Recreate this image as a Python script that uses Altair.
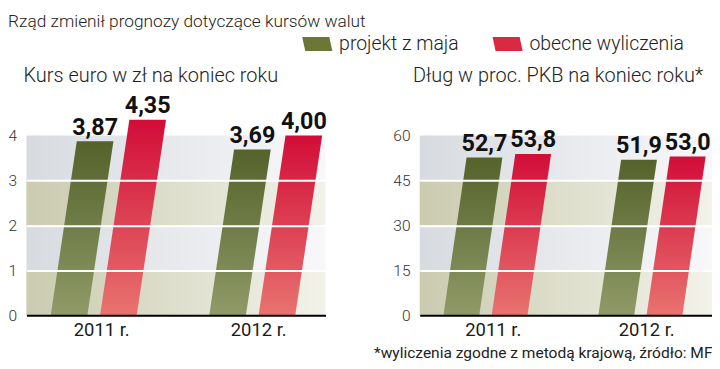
import altair as alt
import pandas as pd

# ---- data -------------------------------------------------------------
main_title = "Rząd zmienił prognozy dotyczące kursów walut"
series = ["projekt z maja", "obecne wyliczenia"]
years = ["2011 r.", "2012 r."]

kurs_title = "Kurs euro w zł na koniec roku"
kurs_projekt = [3.87, 3.69]
kurs_obecne = [4.35, 4.00]
kurs_ticks = [0, 1, 2, 3, 4]

dlug_title = "Dług w proc. PKB na koniec roku*"
dlug_projekt = [52.7, 51.9]
dlug_obecne = [53.8, 53.0]
dlug_ticks = [0, 15, 30, 45, 60]

footnote = "*wyliczenia zgodne z metodą krajową, źródło: MF"

# ---- style -------------------------------------------------------------
FONT = "Roboto"
GREEN = "#6b7637"
RED = "#d92a42"


def vgrad(top, bottom):
    return alt.Gradient(gradient="linear", x1=0, x2=0, y1=0, y2=1,
                        stops=[alt.GradientStop(color=top, offset=0),
                               alt.GradientStop(color=bottom, offset=1)])


def hgrad(left, right):
    return alt.Gradient(gradient="linear", x1=0, x2=1, y1=0, y2=0,
                        stops=[alt.GradientStop(color=left, offset=0),
                               alt.GradientStop(color=right, offset=1)])


bar_grads = [vgrad("#55622a", "#8f9a68"), vgrad("#d20d38", "#e8736f")]
band_grads = [hgrad("#cacbaf", "#f2f2ea"), hgrad("#d7dbe0", "#f8f8fa")]

N_SLOTS = 4                    # x domain width (units)
GROUP0, GROUP_STEP = 0.9, 2.12  # bar group centres
LABEL0, LABEL_STEP = 1.0, 2.1   # category label positions
OFFS = [-0.33, 0.33]           # series offsets inside a group
HALF_W = 0.245                 # half bar width (x units)
SLANT = 0.36                   # top shift of a full-height bar (x units)


def fmt(v, nd):
    return f"{v:.{nd}f}".replace(".", ",")


def panel(values, ticks, title, width, anchor, nd, axis_title, title_offset,
          title_dx, with_legend):
    vmax = ticks[-1]
    area_rows, label_rows = [], []
    for i, yr in enumerate(years):
        c = GROUP0 + GROUP_STEP * i
        for j, s in enumerate(series):
            v = values[j][i]
            b = c + OFFS[j]
            sl = SLANT * v / vmax
            key = f"{i}-{j}"
            left0 = b - HALF_W
            w = 2 * HALF_W
            # parallelogram as a vertical ranged area (4 points)
            area_rows += [
                dict(key=key, series=s, x=left0, lo=0, hi=0),
                dict(key=key, series=s, x=left0 + sl, lo=0, hi=v),
                dict(key=key, series=s, x=left0 + w, lo=0, hi=v),
                dict(key=key, series=s, x=left0 + w + sl, lo=v, hi=v),
            ]
            label_rows.append(dict(series=s, x=b + sl, y=v, text=fmt(v, nd)))
    areas = pd.DataFrame(area_rows)
    labels = pd.DataFrame(label_rows)
    bands = pd.DataFrame([dict(lo=ticks[k], hi=ticks[k + 1], kind=k % 2,
                               x0=0, x1=N_SLOTS) for k in range(len(ticks) - 1)])

    xscale = alt.Scale(domain=[0, N_SLOTS], nice=False, zero=False)
    yscale = alt.Scale(domain=[ticks[0], ticks[-1]], nice=False)

    label_pos = [round(LABEL0 + LABEL_STEP * i, 3) for i in range(len(years))]
    label_expr = " : ".join(
        f"datum.value == {label_pos[i]} ? '{yr}'" for i, yr in enumerate(years[:-1])
    ) + f" : '{years[-1]}'"

    xaxis = alt.Axis(values=label_pos, labelExpr=label_expr,
                     ticks=False, grid=False, domainColor="#000", domainWidth=2,
                     labelFont=FONT, labelFontSize=19, labelColor="#1a1a1a",
                     labelPadding=6, zindex=1,
                     title=axis_title if axis_title else None,
                     titleFont=FONT, titleFontSize=16, titleFontWeight="normal",
                     titleColor="#222", titleAnchor="end", titlePadding=6)
    yaxis = alt.Axis(values=ticks, ticks=False, domain=False, grid=True,
                     gridColor="#ffffff", gridWidth=2,
                     gridOpacity={"condition": {"test": f"datum.value == {ticks[0]} || datum.value == {ticks[-1]}",
                                                "value": 0}, "value": 1},
                     labelFont=FONT, labelFontSize=16, labelFontWeight=300,
                     labelColor="#333", labelPadding=10, title=None, zindex=1)

    layers = []
    for k, g in enumerate(band_grads):
        if k == 0:
            enc = dict(x=alt.X("x0:Q", scale=xscale, axis=xaxis),
                       y=alt.Y("lo:Q", scale=yscale, axis=yaxis))
        else:
            enc = dict(x=alt.X("x0:Q", scale=xscale), y=alt.Y("lo:Q", scale=yscale))
        layers.append(
            alt.Chart(bands).mark_rect(color=g).encode(x2="x1:Q", y2="hi:Q", **enc)
            .transform_filter(f"datum.kind == {k}")
        )
    for s, g in zip(series, bar_grads):
        layers.append(
            alt.Chart(areas).transform_filter(alt.datum.series == s)
            .mark_area(color=g)
            .encode(x=alt.X("x:Q", scale=xscale),
                    y=alt.Y("hi:Q", scale=yscale), y2="lo:Q",
                    detail="key:N")
        )
    if with_legend:
        layers.append(
            alt.Chart(labels).mark_point(filled=True, opacity=0).encode(
                x=alt.X("x:Q", scale=xscale), y=alt.Y("y:Q", scale=yscale),
                color=alt.Color("series:N", scale=alt.Scale(domain=series, range=[GREEN, RED]),
                                legend=alt.Legend(
                                    title=None, orient="none", direction="horizontal",
                                    legendX=284, legendY=-110,
                                    symbolType="M-1,-0.47L0.8,-0.47L1,0.47L-0.8,0.47Z",
                                    symbolSize=961, symbolOpacity=1, symbolStrokeWidth=0,
                                    labelFont=FONT, labelFontSize=20, labelFontWeight=300,
                                    labelColor="#222", labelOffset=7, columnPadding=34,
                                    labelLimit=300)))
        )
    layers.append(
        alt.Chart(labels).mark_text(
            font=FONT, fontWeight="bold", fontSize=24, color="#111",
            baseline="alphabetic", dy=-7
        ).encode(x=alt.X("x:Q", scale=xscale), y=alt.Y("y:Q", scale=yscale), text="text:N")
    )

    return alt.layer(*layers).properties(
        width=width, height=185,
        title=alt.TitleParams(title, anchor=anchor, frame="group", offset=title_offset,
                              dx=title_dx, font=FONT, fontSize=20.5, fontWeight=300,
                              color="#222"),
    )


left = panel([kurs_projekt, kurs_obecne], kurs_ticks, kurs_title, 308, "start", 2,
             None, 8, -3, True)
right = panel([dlug_projekt, dlug_obecne], dlug_ticks, dlug_title, 301, "end", 1,
              footnote, 43, -9, False)

chart = alt.hconcat(left, right, spacing=46).properties(
    padding={"left": 0, "top": 0, "right": 0, "bottom": 0},
    title=alt.TitleParams(main_title, anchor="start", font=FONT, fontSize=17.8,
                          fontWeight=300, color="#222", offset=-2),
).configure_view(stroke=None)

chart.save("out.html", embed_options={"renderer": "svg", "actions": False})
